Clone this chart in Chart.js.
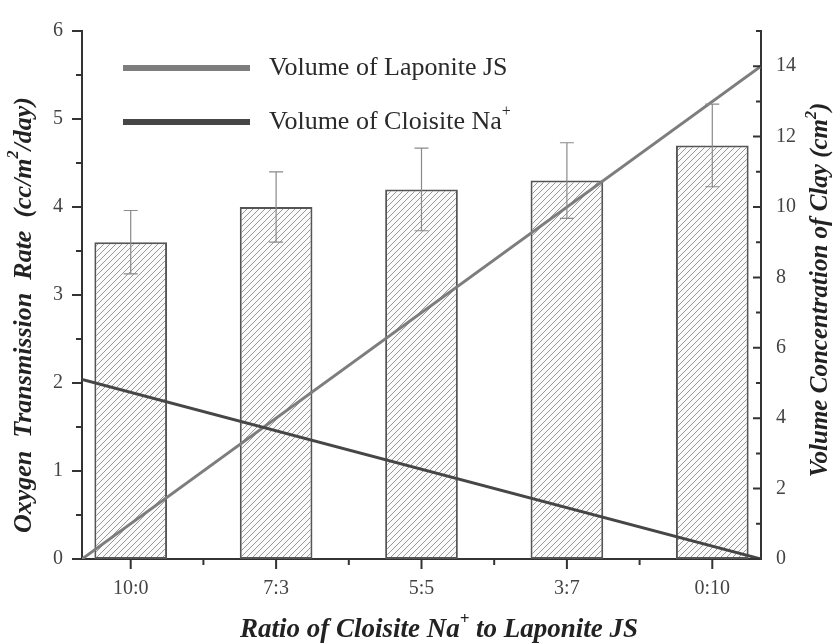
<!DOCTYPE html>
<html>
<head>
<meta charset="utf-8">
<script src="https://cdn.jsdelivr.net/npm/chart.js@4/dist/chart.umd.min.js"></script>
<style>
  html, body { margin: 0; padding: 0; background: #fff; }
  #wrap { width: 835px; height: 643px; position: relative; }
</style>
</head>
<body>
<div id="wrap"><canvas id="otrChart"></canvas></div>
<script>
// ratios of Cloisite Na+ to Laponite JS
const ratios = ['10:0', '7:3', '5:5', '3:7', '0:10'];
// oxygen transmission rate, cc/m2/day, and its error
const otr = [3.6, 4.0, 4.2, 4.3, 4.7];
const otrErr = [0.36, 0.4, 0.47, 0.43, 0.47];
// clay volume concentration (cm2) at the two ends of the ratio axis
const laponiteVolume = [0, 14];
const cloisiteVolume = [5.1, 0];

const xMin = -0.335, xMax = ratios.length - 1 + 0.335;
const FONT = '"Liberation Serif", "Times New Roman", serif';
const INK = '#333';

// hatch fill for the bars
function hatch() {
    const c = document.createElement('canvas');
    c.width = 6; c.height = 6;
    const g = c.getContext('2d');
    g.fillStyle = '#fbfbfb';
    g.fillRect(0, 0, 6, 6);
    g.strokeStyle = '#8c8c8c';
    g.lineWidth = 0.9;
    g.beginPath();
    g.moveTo(0, 6); g.lineTo(6, 0);
    g.moveTo(-1, 1); g.lineTo(1, -1);
    g.moveTo(5, 7); g.lineTo(7, 5);
    g.stroke();
    return g.createPattern(c, 'repeat');
}

// text with superscript pieces: parts = [[text, isSup], ...]
function richText(ctx, parts, x, y, size, style, align) {
    const fontFor = sup => `${style} ${sup ? Math.round(size * 0.62) : size}px ${FONT}`;
    let w = 0;
    parts.forEach(([t, s]) => { ctx.font = fontFor(s); w += ctx.measureText(t).width; });
    let cx = align === 'center' ? x - w / 2 : x;
    ctx.textAlign = 'left';
    ctx.textBaseline = 'middle';
    parts.forEach(([t, s]) => {
        ctx.font = fontFor(s);
        ctx.fillText(t, cx, s ? y - size * 0.38 : y);
        cx += ctx.measureText(t).width;
    });
}

function drawTicks(ctx, scale, from, to, step, isMajor, len, minorLen, side) {
    ctx.beginPath();
    for (let v = from; v <= to + 1e-9; v += step) {
        const l = isMajor(v) ? len : minorLen;
        const p = scale.getPixelForValue(v);
        if (side === 'left') { ctx.moveTo(scale.right - l, p); ctx.lineTo(scale.right, p); }
        if (side === 'rightIn') { ctx.moveTo(scale.left, p); ctx.lineTo(scale.left - l, p); }
        if (side === 'bottom') { ctx.moveTo(p, scale.top); ctx.lineTo(p, scale.top + l); }
    }
    ctx.stroke();
}

const decor = {
    id: 'decor',
    afterDatasetsDraw(chart) {
        const ctx = chart.ctx, x = chart.scales.x, y = chart.scales.y;
        ctx.save();
        ctx.strokeStyle = '#8a8a8a';
        ctx.lineWidth = 1.2;
        otr.forEach((v, i) => {
            const px = x.getPixelForValue(i);
            const top = y.getPixelForValue(v + otrErr[i]);
            const bot = y.getPixelForValue(v - otrErr[i]);
            ctx.beginPath();
            ctx.moveTo(px, top); ctx.lineTo(px, bot);
            ctx.moveTo(px - 7, top); ctx.lineTo(px + 7, top);
            ctx.moveTo(px - 7, bot); ctx.lineTo(px + 7, bot);
            ctx.stroke();
        });
        ctx.restore();
    },
    afterDraw(chart) {
        const ctx = chart.ctx, a = chart.chartArea;
        const {x, y, y2} = chart.scales;
        ctx.save();
        ctx.strokeStyle = INK;
        ctx.lineWidth = 2;
        drawTicks(ctx, y, 0, 6, 0.5, v => Math.abs(v - Math.round(v)) < 1e-6, 10, 6, 'left');
        drawTicks(ctx, y2, 0, 15, 1, v => v % 2 === 0, 8, 5, 'rightIn');
        drawTicks(ctx, x, 0, ratios.length - 1, 0.5, v => Math.abs(v - Math.round(v)) < 1e-6, 10, 6, 'bottom');

        // legend
        const items = [
            {ds: chart.data.datasets[1], parts: [['Volume of Laponite JS', false]]},
            {ds: chart.data.datasets[2], parts: [['Volume of Cloisite Na', false], ['+', true]]}
        ];
        items.forEach((it, k) => {
            const ly = a.top + 37 + k * 54;
            ctx.strokeStyle = it.ds.borderColor;
            ctx.lineWidth = 6;
            ctx.beginPath();
            ctx.moveTo(a.left + 41, ly); ctx.lineTo(a.left + 168, ly);
            ctx.stroke();
            ctx.fillStyle = '#2a2a2a';
            richText(ctx, it.parts, a.left + 187, ly, 26, 'normal', 'left');
        });

        // axis titles
        ctx.fillStyle = '#222';
        richText(ctx, [['Ratio of Cloisite Na', false], ['+', true], [' to Laponite JS', false]],
            439, 630, 27, 'italic bold', 'center');
        ctx.save();
        ctx.translate(24, 315);
        ctx.rotate(-Math.PI / 2);
        richText(ctx, [['Oxygen  Transmission  Rate  (cc/m', false], ['2', true], ['/day)', false]],
            0, 0, 26, 'italic bold', 'center');
        ctx.restore();
        ctx.save();
        ctx.translate(821, 290);
        ctx.rotate(-Math.PI / 2);
        richText(ctx, [['Volume Concentration of Clay (cm', false], ['2', true], [')', false]],
            0, 0, 25, 'italic bold', 'center');
        ctx.restore();
        ctx.restore();
    }
};

const tickFont = {family: FONT, size: 20};

new Chart(document.getElementById('otrChart'), {
    type: 'bar',
    data: {
        datasets: [{
            label: 'Oxygen Transmission Rate',
            data: otr.map((v, i) => ({x: i, y: v})),
            backgroundColor: hatch(),
            borderColor: '#555',
            borderWidth: 2,
            borderSkipped: false,
            barPercentage: 0.5,
            categoryPercentage: 1,
            yAxisID: 'y',
            order: 3
        }, {
            type: 'line',
            label: 'Volume of Laponite JS',
            data: laponiteVolume.map((v, i) => ({x: i === 0 ? xMin : xMax, y: v})),
            borderColor: '#7d7d7d',
            borderWidth: 3,
            pointRadius: 0,
            yAxisID: 'y2',
            order: 2
        }, {
            type: 'line',
            label: 'Volume of Cloisite Na+',
            data: cloisiteVolume.map((v, i) => ({x: i === 0 ? xMin : xMax, y: v})),
            borderColor: '#464646',
            borderWidth: 3,
            pointRadius: 0,
            yAxisID: 'y2',
            order: 1
        }]
    },
    options: {
        responsive: true,
        maintainAspectRatio: false,
        animation: false,
        layout: {padding: {top: 20, left: 0, right: 0, bottom: 0}},
        plugins: {legend: {display: false}, tooltip: {enabled: false}},
        scales: {
            x: {
                type: 'linear',
                min: xMin,
                max: xMax,
                offset: false,
                afterBuildTicks: s => { s.ticks = ratios.map((r, i) => ({value: i})); },
                afterFit: s => { s.height = 84; },
                grid: {display: false, drawTicks: false},
                border: {display: true, color: INK, width: 2},
                ticks: {callback: v => ratios[v], color: '#444', font: tickFont, padding: 18, maxRotation: 0}
            },
            y: {
                position: 'left',
                min: 0,
                max: 6,
                afterFit: s => { s.width = 82; },
                grid: {display: false, drawTicks: false},
                border: {display: true, color: INK, width: 2},
                ticks: {stepSize: 1, color: '#444', font: tickFont, padding: 19}
            },
            y2: {
                position: 'right',
                min: 0,
                max: 15,
                afterBuildTicks: s => { s.ticks = [0, 2, 4, 6, 8, 10, 12, 14].map(v => ({value: v})); },
                afterFit: s => { s.width = 74; },
                grid: {display: false, drawTicks: false},
                border: {display: true, color: INK, width: 2},
                ticks: {color: '#444', font: tickFont, padding: 15}
            }
        }
    },
    plugins: [decor]
});
</script>
</body>
</html>
